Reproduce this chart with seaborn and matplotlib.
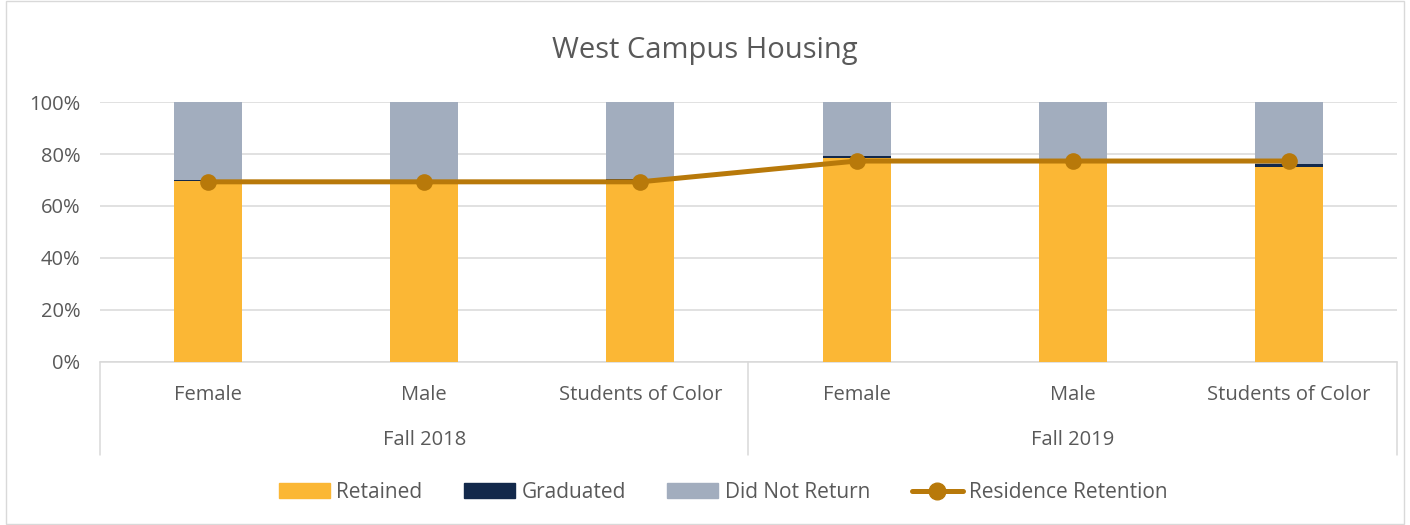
import numpy as np
import pandas as pd
import matplotlib
matplotlib.use("Agg")
import matplotlib.pyplot as plt
import matplotlib.transforms as mtransforms
from matplotlib.patches import Patch, Rectangle
from matplotlib.lines import Line2D
import seaborn as sns

# data (percent)
terms = ["Fall 2018", "Fall 2018", "Fall 2018", "Fall 2019", "Fall 2019", "Fall 2019"]
groups = ["Female", "Male", "Students of Color", "Female", "Male", "Students of Color"]
retained = [69.7, 69.6, 70.1, 78.4, 77.6, 74.9]
graduated = [0.3, 0.0, 0.4, 0.8, 0.0, 1.4]
did_not_return = [30.0, 30.4, 29.5, 20.8, 22.4, 23.7]
residence_retention = [69.3, 69.3, 69.3, 77.3, 77.3, 77.3]

C_RET = "#FBB735"
C_GRAD = "#13294B"
C_DNR = "#A2ADBE"
C_LINE = "#B8790A"
TXT = "#595959"

sns.set_theme(style="white")
plt.rcParams["font.family"] = ["Open Sans", "DejaVu Sans"]

df = pd.DataFrame({
    "key": [f"{t}|{g}" for t, g in zip(terms, groups)],
    "retained": retained,
    "graduated": graduated,
    "dnr": did_not_return,
})
df["top_grad"] = df["retained"] + df["graduated"]
df["top_all"] = df["top_grad"] + df["dnr"]
order = list(df["key"])

fig = plt.figure(figsize=(14.1, 5.25), dpi=100)
ax = fig.add_axes([0.0709, 0.3105, 0.9199, 0.4952])

bw = 0.315
sns.barplot(data=df, x="key", y="top_all", order=order, color=C_DNR, width=bw,
            saturation=1, linewidth=0, ax=ax, zorder=2)
sns.barplot(data=df, x="key", y="top_grad", order=order, color=C_GRAD, width=bw,
            saturation=1, linewidth=0, ax=ax, zorder=3)
sns.barplot(data=df, x="key", y="retained", order=order, color=C_RET, width=bw,
            saturation=1, linewidth=0, ax=ax, zorder=4)

line_df = pd.DataFrame({"pos": np.arange(len(order)), "val": residence_retention})
sns.lineplot(data=line_df, x="pos", y="val", color=C_LINE, lw=3.6, marker="o",
             markersize=12, markeredgewidth=0, ax=ax, zorder=6)

ax.set_xlim(-0.5, len(order) - 0.5)
ax.set_ylim(0, 100)
ax.set_yticks(np.arange(0, 101, 20))
ax.set_yticklabels([f"{v}%" for v in range(0, 101, 20)], color=TXT, fontsize=14.5)
ax.yaxis.grid(True, color="#D9D9D9", lw=1.1, zorder=0)
ax.set_axisbelow(True)
ax.tick_params(axis="y", length=0, pad=14)
ax.tick_params(axis="x", length=0, pad=16.5)
ax.set_xticks(range(len(order)))
ax.set_xticklabels(groups, color=TXT, fontsize=14.5)
ax.set_xlabel("")
ax.set_ylabel("")
for s in ["left", "right", "top"]:
    ax.spines[s].set_visible(False)
ax.spines["bottom"].set_color("#D9D9D9")
ax.spines["bottom"].set_linewidth(1.1)

# two-level category axis
trans = mtransforms.blended_transform_factory(ax.transData, ax.transAxes)
for xs in [-0.5, 2.5, 5.5]:
    ax.add_line(Line2D([xs, xs], [0, -0.358], transform=trans, color="#D9D9D9",
                       lw=1.1, clip_on=False))
for i, t in enumerate(["Fall 2018", "Fall 2019"]):
    ax.text(1 + 3 * i, -0.30, t, transform=trans, ha="center", va="center",
            color=TXT, fontsize=14.5)

fig.text(0.5, 0.903, "West Campus Housing", ha="center", va="center",
         color=TXT, fontsize=21)

handles = [Patch(color=C_RET, label="Retained"),
           Patch(color=C_GRAD, label="Graduated"),
           Patch(color=C_DNR, label="Did Not Return"),
           Line2D([], [], color=C_LINE, lw=3.6, marker="o", markersize=12,
                  label="Residence Retention")]
leg = fig.legend(handles=handles, loc="center", bbox_to_anchor=(0.513, 0.062),
                 ncol=4, frameon=False, fontsize=15, handlelength=2.45,
                 handleheight=0.7, columnspacing=2.0, handletextpad=0.3)
for t in leg.get_texts():
    t.set_color(TXT)

fig.patches.append(Rectangle((0.004, 0.002), 0.992, 0.996, transform=fig.transFigure,
                             fill=False, edgecolor="#D9D9D9", lw=1.0))

fig.savefig("out.png", dpi=100)
